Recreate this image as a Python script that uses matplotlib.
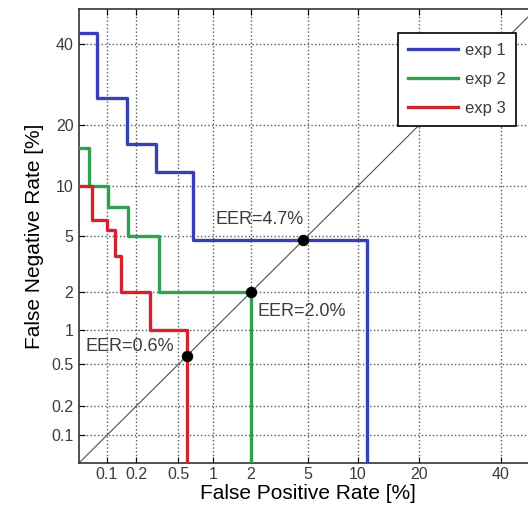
#!/usr/bin/env python3
"""DET curves for three experiments, probit axes."""
import math
import matplotlib
matplotlib.use('Agg')
import matplotlib.pyplot as plt
import numpy as np

plt.rcParams['font.family'] = ['Liberation Sans', 'DejaVu Sans']

BLUE, GREEN, RED = '#3a3fb3', '#2fa24f', '#d3232f'
GRAYTXT = '#3c3c3c'

# step corners (percent): horizontal from each x to the next, then drop
EXP1_FPR = [0.01, 0.078, 0.16, 0.31, 0.67, 11.2]
EXP1_FNR = [43.0, 26.0, 16.4, 11.9, 4.7, 0.001]
EXP2_FPR = [0.01, 0.064, 0.104, 0.165, 0.33, 2.0]
EXP2_FNR = [15.6, 10.0, 7.6, 5.0, 2.0, 0.001]
EXP3_FPR = [0.01, 0.069, 0.10, 0.121, 0.14, 0.27, 0.6]
EXP3_FNR = [10.0, 6.3, 5.5, 3.7, 2.0, 1.0, 0.001]

LABELS = ['exp 1', 'exp 2', 'exp 3']
EER = [4.7, 2.0, 0.6]
TICKS = [0.1, 0.2, 0.5, 1, 2, 5, 10, 20, 40]
TICK_LABELS = ['0.1', '0.2', '0.5', '1', '2', '5', '10', '20', '40']

# normal deviate scale built from a lookup table
_z = np.linspace(-8, 8, 40001)
_cdf = np.array([0.5 * math.erfc(-v / math.sqrt(2)) for v in _z])


def probit(pct):
    p = np.clip(np.asarray(pct, dtype=float) / 100.0, 1e-15, 1 - 1e-15)
    return np.interp(p, _cdf, _z)


def inv_probit(z):
    return np.interp(np.asarray(z, dtype=float), _z, _cdf) * 100.0


fig = plt.figure(figsize=(5.28, 5.15), dpi=100)
ax = fig.add_axes([79 / 528, 1 - 463 / 515, 457 / 528, 454 / 515])
ax.set_xscale('function', functions=(probit, inv_probit))
ax.set_yscale('function', functions=(probit, inv_probit))
ax.set_xlim(0.05, 50)
ax.set_ylim(0.05, 50)

ax.grid(True, ls=':', color='#5a5a5a', lw=1.0)
ax.axline((1, 1), (10, 10), color='#505050', lw=0.8, zorder=2)

series = [(EXP1_FPR, EXP1_FNR, BLUE), (EXP2_FPR, EXP2_FNR, GREEN), (EXP3_FPR, EXP3_FNR, RED)]
for (fx, fy, c), lbl in zip(series, LABELS):
    ax.plot(fx, fy, drawstyle='steps-post', color=c, lw=2.4, label=lbl, zorder=3)

ax.scatter(EER, EER, s=52, color='black', zorder=5)
offsets = [(-88, 21, 'left'), (7, -19, 'left'), (-13, 9, 'right')]
for e, (dx, dy, ha) in zip(EER, offsets):
    ax.annotate(f'EER={e:.1f}%', (e, e), xytext=(dx, dy), textcoords='offset pixels',
                ha=ha, va='center', fontsize=13, color=GRAYTXT)

ax.set_xticks(TICKS)
ax.set_xticklabels(TICK_LABELS)
ax.set_yticks(TICKS)
ax.set_yticklabels(TICK_LABELS)
ax.minorticks_off()
ax.tick_params(direction='in', top=True, right=True, length=4, labelsize=11.5,
               labelcolor=GRAYTXT)
ax.tick_params(axis='x', pad=3)
ax.tick_params(axis='y', pad=4)
for sp in ax.spines.values():
    sp.set_color('#333333')
    sp.set_linewidth(1.2)

ax.set_xlabel('False Positive Rate [%]', fontsize=15, labelpad=1)
ax.set_ylabel('False Negative Rate [%]', fontsize=15, labelpad=5)

leg = fig.legend(loc='upper left', bbox_to_anchor=(398 / 528, 1 - 33 / 515),
                 borderaxespad=0, fontsize=12, handlelength=3.0, labelspacing=0.85,
                 borderpad=0.6, handletextpad=0.4, fancybox=False, framealpha=1,
                 edgecolor='black')
leg.get_frame().set_linewidth(1.2)
for t in leg.get_texts():
    t.set_color(GRAYTXT)

fig.savefig('out.png', dpi=100)
